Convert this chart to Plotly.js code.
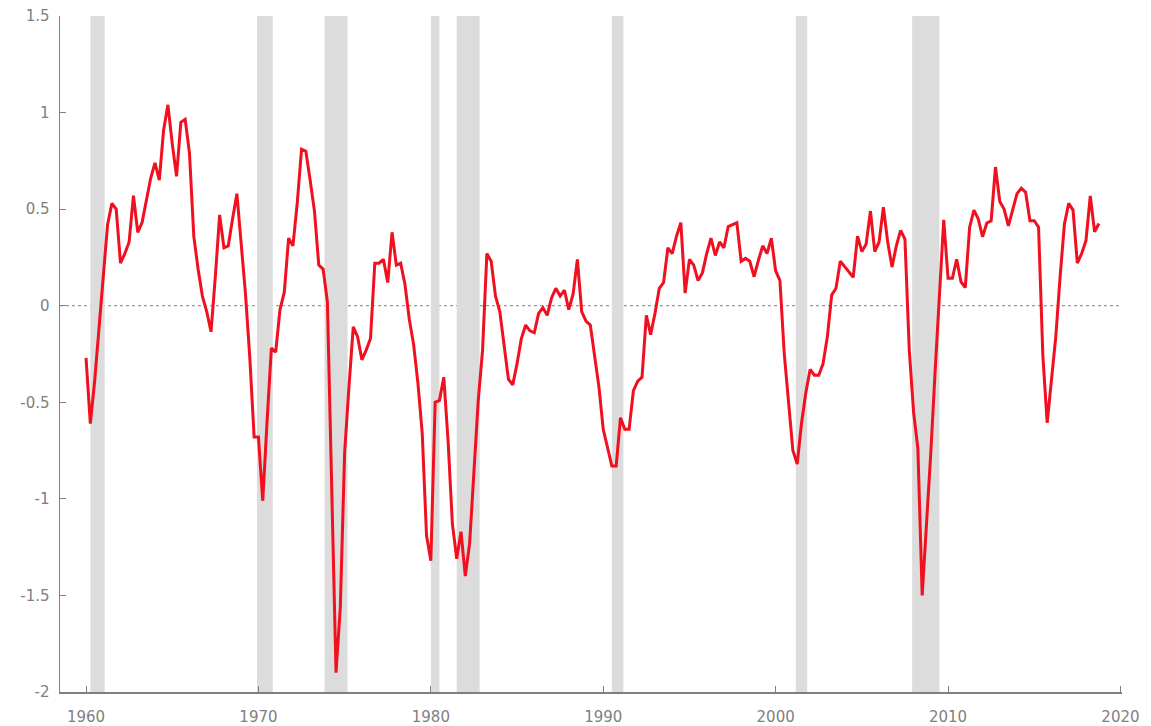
<!DOCTYPE html>
<html>
<head>
<meta charset="utf-8">
<script src="https://cdn.plot.ly/plotly-3.0.1.min.js"></script>
<style>
  html, body { margin: 0; padding: 0; background: #ffffff; }
  #chart { width: 1151px; height: 726px; }
</style>
</head>
<body>
<div id="chart"></div>
<script>
// Quarterly series, 1960Q1 .. 2018Q4
const firstYear = 1960;
const values = [
  -0.27, -0.61, -0.39, -0.14, 0.15, 0.42, 0.53, 0.50, 0.22, 0.27,
  0.33, 0.57, 0.38, 0.43, 0.55, 0.66, 0.74, 0.65, 0.91, 1.04,
  0.84, 0.67, 0.95, 0.965, 0.79, 0.36, 0.19, 0.05, -0.03, -0.135,
  0.15, 0.47, 0.30, 0.31, 0.45, 0.58, 0.32, 0.06, -0.27, -0.68,
  -0.68, -1.01, -0.60, -0.22, -0.24, -0.02, 0.07, 0.35, 0.31, 0.53,
  0.81, 0.80, 0.65, 0.49, 0.21, 0.19, 0.02, -1.00, -1.90, -1.56,
  -0.76, -0.42, -0.11, -0.16, -0.28, -0.23, -0.17, 0.22, 0.22, 0.24,
  0.12, 0.38, 0.21, 0.22, 0.11, -0.07, -0.20, -0.40, -0.66, -1.19,
  -1.32, -0.50, -0.49, -0.37, -0.70, -1.13, -1.31, -1.17, -1.40, -1.23,
  -0.83, -0.49, -0.23, 0.27, 0.23, 0.05, -0.03, -0.21, -0.38, -0.41,
  -0.30, -0.17, -0.10, -0.13, -0.14, -0.04, -0.01, -0.05, 0.04, 0.09,
  0.05, 0.08, -0.02, 0.06, 0.24, -0.03, -0.08, -0.10, -0.26, -0.42,
  -0.64, -0.73, -0.83, -0.83, -0.58, -0.64, -0.64, -0.44, -0.39, -0.37,
  -0.05, -0.15, -0.04, 0.09, 0.12, 0.30, 0.27, 0.36, 0.43, 0.065,
  0.24, 0.21, 0.13, 0.17, 0.27, 0.35, 0.26, 0.33, 0.30, 0.41,
  0.42, 0.43, 0.23, 0.245, 0.23, 0.15, 0.235, 0.31, 0.27, 0.35,
  0.18, 0.13, -0.25, -0.50, -0.75, -0.82, -0.61, -0.45, -0.33, -0.36,
  -0.36, -0.30, -0.16, 0.055, 0.09, 0.23, 0.20, 0.175, 0.147, 0.36,
  0.28, 0.32, 0.49, 0.28, 0.33, 0.51, 0.33, 0.20, 0.31, 0.39,
  0.345, -0.23, -0.55, -0.74, -1.50, -1.14, -0.76, -0.34, 0.04, 0.445,
  0.142, 0.142, 0.24, 0.124, 0.094, 0.405, 0.495, 0.45, 0.357, 0.428,
  0.44, 0.718, 0.54, 0.50, 0.413, 0.50, 0.58, 0.608, 0.587, 0.44,
  0.44, 0.406, -0.26, -0.606, -0.40, -0.16, 0.15, 0.423, 0.53, 0.495,
  0.22, 0.27, 0.337, 0.568, 0.383, 0.426
];

// NBER recessions (decimal years)
const recessionStart = [1960.25, 1969.917, 1973.833, 1980.0, 1981.5, 1990.5, 2001.167, 2007.917];
const recessionEnd   = [1961.083, 1970.833, 1975.167, 1980.5, 1982.833, 1991.167, 2001.833, 2009.5];

const xTickVals = [1960, 1970, 1980, 1990, 2000, 2010, 2020];
const yTickVals = [1.5, 1, 0.5, 0, -0.5, -1, -1.5, -2];
const yTickText = ["1.5", "1", "0.5", "0", "-0.5", "-1", "-1.5", "-2"];

const xs = values.map((v, i) => firstYear + i / 4);

const shapes = [];
shapes.push({
  type: 'line', xref: 'paper', yref: 'y', x0: 0, x1: 1, y0: 0, y1: 0,
  line: { color: '#808080', width: 1, dash: 'dot' }, layer: 'below'
});
recessionStart.forEach((s, i) => {
  shapes.push({
    type: 'rect', xref: 'x', yref: 'paper', x0: s, x1: recessionEnd[i], y0: 0, y1: 1,
    fillcolor: '#dcdcdc', line: { width: 0 }, layer: 'below'
  });
});

const trace = {
  x: xs, y: values, type: 'scatter', mode: 'lines',
  line: { color: '#f0101f', width: 3 },
  hoverinfo: 'skip'
};

const font = { family: 'DejaVu Sans, Verdana, sans-serif', size: 15, color: '#808080' };

const layout = {
  width: 1151, height: 726,
  margin: { l: 60, r: 29, t: 16, b: 34, pad: 0 },
  paper_bgcolor: '#ffffff', plot_bgcolor: '#ffffff',
  showlegend: false,
  font: font,
  xaxis: {
    range: [1958.49, 2020.09],
    tickvals: xTickVals,
    ticks: 'inside', ticklen: 6, tickcolor: '#808080', tickwidth: 1,
    showline: true, linecolor: '#808080', linewidth: 1.5,
    showgrid: false, zeroline: false,
    tickfont: font, ticklabelstandoff: 10
  },
  yaxis: {
    range: [-2, 1.5],
    tickvals: yTickVals, ticktext: yTickText,
    ticks: 'inside', ticklen: 6, tickcolor: '#808080', tickwidth: 1,
    showline: true, linecolor: '#808080', linewidth: 1.5,
    showgrid: false, zeroline: false,
    tickfont: font, ticklabelstandoff: 6
  },
  shapes: shapes
};

Plotly.newPlot('chart', [trace], layout, { staticPlot: true, displayModeBar: false });
</script>
</body>
</html>
